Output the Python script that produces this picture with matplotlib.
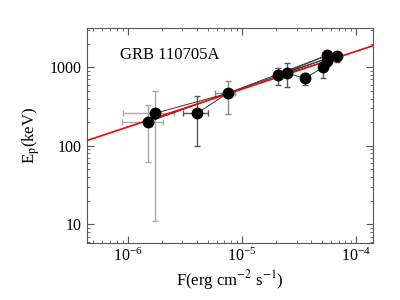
import matplotlib

matplotlib.use("Agg")
import matplotlib.pyplot as plt
import numpy as np

# time-resolved points: flux (erg cm^-2 s^-1) and Ep (keV), with asymmetric bounds
flux = np.array([1.50e-6, 1.73e-6, 4.03e-6, 7.5e-6, 2.07e-5, 2.48e-5,
                 3.57e-5, 5.14e-5, 5.57e-5, 5.6e-5, 5.5e-5, 6.8e-5])
flux_lo = np.array([8.9e-7, 9.0e-7, 3.03e-6, 5.8e-6, 1.95e-5, 2.35e-5,
                    3.4e-5, 4.9e-5, 5.3e-5, 5.35e-5, 5.25e-5, 6.5e-5])
flux_hi = np.array([2.03e-6, 2.53e-6, 5.03e-6, 8.7e-6, 2.2e-5, 2.6e-5,
                    3.75e-5, 5.4e-5, 5.85e-5, 5.9e-5, 5.75e-5, 7.1e-5])
ep = np.array([200, 259, 259, 467, 791, 839, 724, 1000, 1420, 1300, 1190, 1380])
ep_lo = np.array([62, 11.2, 100, 252, 590, 556, 602, 724, 1250, 1150, 1050, 1160])
ep_hi = np.array([328, 494, 427, 664, 970, 1125, 840, 1340, 1600, 1480, 1350, 1550])
bar_gray = ["#aaaaaa", "#aaaaaa", "#555555", "#888888", "#555555", "#555555",
            "#555555", "#555555", "#555555", "#555555", "#555555", "#555555"]
links = [(0, 3), (1, 3), (2, 3), (3, 8), (3, 9), (4, 8), (4, 9),
         (5, 10), (5, 6), (6, 7), (7, 10), (8, 11)]

# power-law fit Ep = K * F^idx
fit_logk = 5.132
fit_idx = 0.482

plt.rcParams["font.family"] = ["Liberation Serif", "DejaVu Serif"]
plt.rcParams["mathtext.fontset"] = "stix"

fig = plt.figure(figsize=(4, 3), dpi=100)
ax = fig.add_axes([0.2175, 0.19, 0.715, 0.7167])

for i in range(len(flux)):
    ax.errorbar(flux[i], ep[i],
                xerr=[[flux[i] - flux_lo[i]], [flux_hi[i] - flux[i]]],
                yerr=[[ep[i] - ep_lo[i]], [ep_hi[i] - ep[i]]],
                fmt="none", ecolor=bar_gray[i], elinewidth=1.0,
                capsize=2.5, capthick=1.0, zorder=2)

for a, b in links:
    ax.plot([flux[a], flux[b]], [ep[a], ep[b]], color="#333333", lw=0.7, zorder=3)

ax.plot(flux, ep, "o", color="black", ms=7.5, zorder=5)

fx = np.logspace(np.log10(4.4e-7), np.log10(1.4e-4), 50)
ax.plot(fx, 10 ** fit_logk * fx ** fit_idx, color="red", lw=1.2, zorder=4)

ax.set_xscale("log")
ax.set_yscale("log")
ax.set_xlim(4.4e-7, 1.4e-4)
ax.set_ylim(5.8, 3160)

ax.tick_params(which="both", direction="in", top=True, right=True,
               color="#555555", labelsize=11.5)
ax.tick_params(which="major", length=5, width=0.8)
ax.tick_params(which="minor", length=2.5, width=0.6)
for s in ax.spines.values():
    s.set_color("#555555")
    s.set_linewidth(0.8)

ax.set_yticks([10, 100, 1000])
ax.set_yticklabels(["10", "100", "1000"])

ax.set_xlabel(r"F(erg cm$^{-2}$ s$^{-1}$)", fontsize=12, labelpad=2)
ax.set_ylabel(r"E$_{\rm p}$(keV)", fontsize=12, labelpad=6)
ax.text(0.115, 0.875, "GRB 110705A", transform=ax.transAxes, fontsize=12,
        va="center")

fig.savefig("out.png", dpi=100)
